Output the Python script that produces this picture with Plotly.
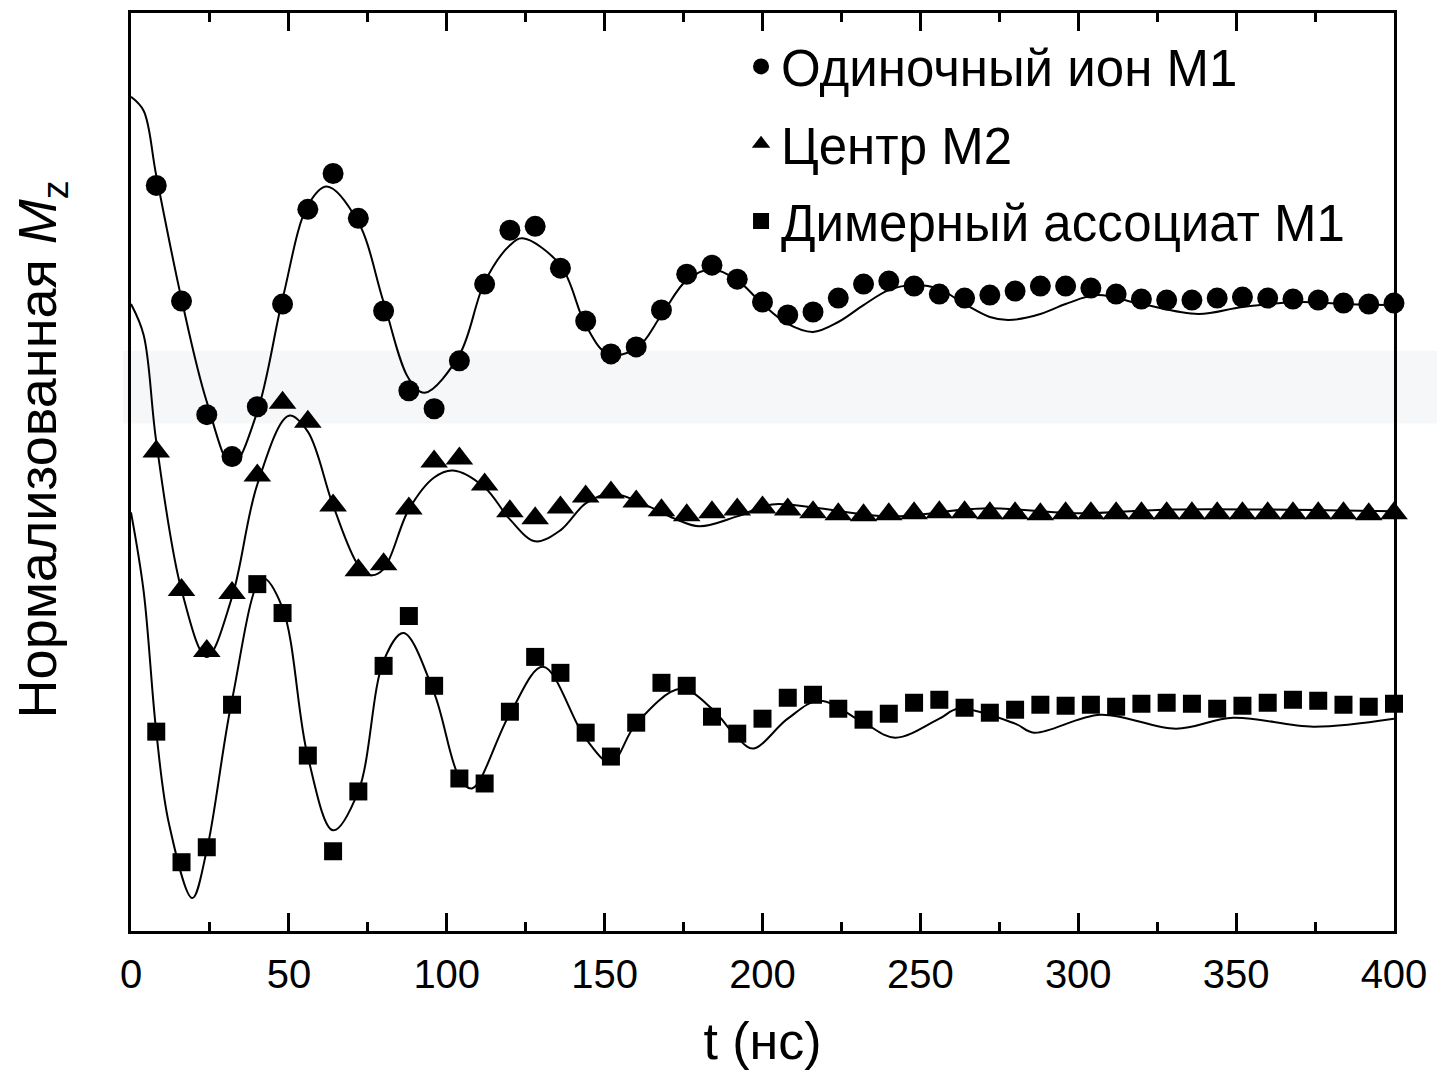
import plotly.graph_objects as go

# Time grid of experimental points (ns)
t_points = [8 * i for i in range(1, 51)]

# Experimental points (normalized Mz, arbitrary offset units)
single_ion_m1 = [74.5, 62.9, 51.5, 47.3, 52.3, 62.6, 72.1, 75.7, 71.2, 61.9,
                 53.9, 52.1, 56.9, 64.6, 70.0, 70.4, 66.2, 60.9, 57.6,
                 58.3, 62.0, 65.6, 66.5, 65.1, 62.8, 61.5, 61.8, 63.2, 64.6,
                 64.9, 64.4, 63.6, 63.2, 63.5, 63.9, 64.4, 64.4, 64.2, 63.6,
                 63.1, 63.0, 63.0, 63.2, 63.3, 63.2, 63.1, 63.0, 62.7, 62.6, 62.7]

center_m2 = [47.8, 33.9, 27.8, 33.6, 45.4, 52.7, 50.8, 42.4, 35.9, 36.5,
             42.1, 46.8, 47.1, 44.5, 41.8, 41.1, 42.2, 43.3, 43.7,
             42.8, 41.9, 41.4, 41.7, 42.0, 42.2, 42.0, 41.7, 41.5, 41.4,
             41.5, 41.6, 41.7, 41.7, 41.6, 41.6, 41.5, 41.6, 41.6, 41.6,
             41.6, 41.6, 41.6, 41.6, 41.6, 41.6, 41.6, 41.6, 41.6, 41.5, 41.6]

dimer_m1 = [19.7, 6.6, 8.1, 22.4, 34.5, 31.6, 17.3, 7.7, 13.7, 26.3,
            31.3, 24.3, 15.0, 14.5, 21.7, 27.2, 25.6, 19.6, 17.2,
            20.6, 24.6, 24.3, 21.2, 19.5, 21.0, 23.1, 23.4, 22.0, 20.9,
            21.5, 22.6, 22.9, 22.1, 21.6, 21.9, 22.4, 22.3, 22.4, 22.2,
            22.5, 22.6, 22.5, 22.0, 22.3, 22.6, 22.9, 22.8, 22.4, 22.2, 22.5]

# Fit curves
fit1_t = [0, 4, 8, 16, 24, 32, 40, 48, 56, 62, 72, 80, 88, 93, 104, 112, 120, 124,
          136, 144, 151, 160, 168, 176, 184, 192, 200, 208, 216, 224, 232, 240, 248,
          256, 264, 272, 278, 288, 296, 306, 320, 338, 352, 370, 384, 400]
fit1_y = [83.4, 82.0, 75.5, 63.1, 52.8, 46.4, 51.8, 63.1, 72.5, 74.4, 70.8, 62.8,
          55.1, 53.7, 57.5, 64.8, 68.5, 69.2, 66.5, 60.5, 57.6, 58.1, 61.5, 65.0,
          66.1, 65.0, 62.6, 60.6, 59.8, 60.8, 62.5, 64.0, 64.5, 64.1, 62.6, 61.3,
          61.0, 61.6, 62.6, 63.5, 62.6, 61.6, 62.3, 62.8, 62.6, 62.5]

fit2_t = [0, 4, 8, 16, 24, 32, 40, 50, 56, 64, 72, 76, 80, 88, 96, 102, 112, 120,
          128, 136, 144, 152, 164, 172, 180, 192, 203, 216, 240, 270, 300, 330, 400]
fit2_y = [62.6, 59.5, 48.8, 33.9, 27.2, 33.2, 44.5, 51.4, 49.8, 42.4, 36.4, 35.4,
          36.0, 42.0, 45.2, 45.9, 44.2, 41.0, 38.8, 39.9, 42.6, 43.6, 42.3, 41.1,
          40.3, 41.3, 42.5, 42.2, 41.3, 42.1, 41.6, 42.0, 41.8]

fit3_t = [0, 4, 8, 12, 19.4, 24, 32, 41.6, 48, 56, 64, 72, 80, 86.3, 96, 104, 108,
          120, 130.5, 144, 152, 160, 174, 184, 192, 197, 208, 218, 232, 242, 256,
          262, 280, 286, 307, 331, 349, 374.5, 400]
fit3_y = [41.7, 33.8, 19.7, 10.5, 3.0, 7.8, 22.9, 35.1, 32.1, 17.2, 9.8, 13.7, 26.8,
          29.6, 23.6, 15.1, 14.0, 21.5, 26.2, 19.0, 16.6, 20.5, 24.0, 22.0, 19.1,
          18.0, 21.0, 22.8, 20.6, 19.1, 21.0, 22.0, 20.5, 19.6, 21.4, 20.0, 21.1,
          20.2, 21.0]

names = ["Одиночный ион М1", "Центр М2", "Димерный ассоциат М1"]
symbols = ["circle", "triangle-up", "square"]
sizes = [21, 24, 18]

FONT = "Liberation Sans, Arial, Helvetica, sans-serif"

fig = go.Figure()

for ft, fy in [(fit1_t, fit1_y), (fit2_t, fit2_y), (fit3_t, fit3_y)]:
    fig.add_trace(go.Scatter(x=ft, y=fy, mode="lines",
                             line=dict(color="black", width=2, shape="spline", smoothing=1.0),
                             showlegend=False, hoverinfo="skip"))

for i, ys in enumerate([single_ion_m1, center_m2, dimer_m1]):
    fig.add_trace(go.Scatter(x=t_points, y=ys, mode="markers", name=names[i],
                             legendgroup=f"g{i}",
                             marker=dict(symbol=symbols[i], size=sizes[i], color="black",
                                         line=dict(width=0)),
                             cliponaxis=False))

fig.add_shape(type="rect", xref="paper", yref="paper",
              x0=-0.0063, x1=1.04, y0=0.5527, y1=0.632,
              fillcolor="#f6f7f9", line=dict(width=0), layer="below")

fig.add_annotation(text="Нормализованная <i>M</i><sub>z</sub>",
                   xref="paper", yref="paper", x=-0.071, y=0.525,
                   xanchor="center", yanchor="middle", textangle=-90,
                   showarrow=False, font=dict(size=54, family=FONT, color="black"))

fig.update_layout(
    width=1437, height=1073,
    margin=dict(l=131, r=40, t=10, b=142),
    paper_bgcolor="white", plot_bgcolor="white",
    font=dict(family=FONT, color="black", size=40),
    legend=dict(x=0.483, y=0.985, xanchor="left", yanchor="top",
                font=dict(size=51, family=FONT), bgcolor="rgba(0,0,0,0)",
                tracegroupgap=8, itemwidth=30),
    xaxis=dict(range=[0, 400], showgrid=False, zeroline=False,
               showline=True, linewidth=3, linecolor="black", mirror="ticks",
               ticks="inside", ticklen=18, tickwidth=3, tickcolor="black",
               dtick=50, tick0=0, tickfont=dict(size=40), ticklabelstandoff=6,
               minor=dict(ticks="inside", ticklen=9, tickwidth=3, dtick=25,
                          tickcolor="black", showgrid=False),
               title=dict(text="t (нс)", font=dict(size=52), standoff=28)),
    yaxis=dict(range=[-0.3, 91.8], showgrid=False, zeroline=False,
               showline=True, linewidth=3, linecolor="black", mirror=True,
               ticks="", showticklabels=False),
)

fig.write_html("out.html")
